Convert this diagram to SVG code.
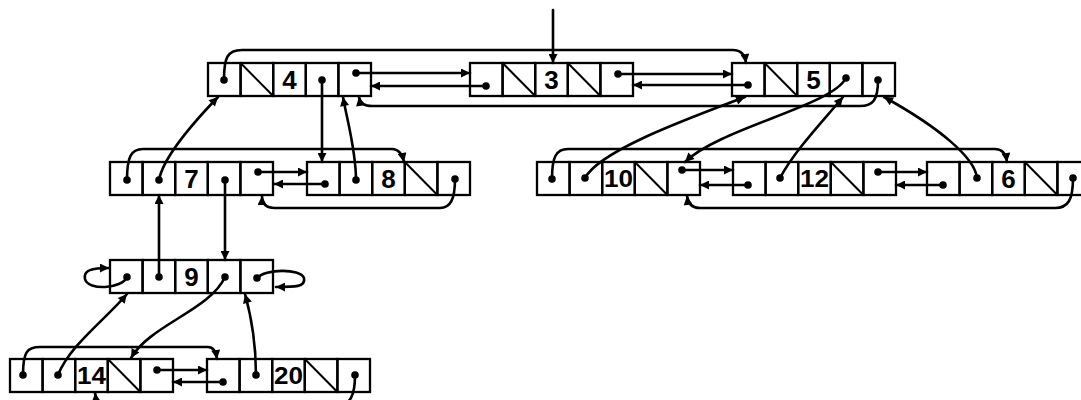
<svg xmlns="http://www.w3.org/2000/svg" width="1081" height="400" viewBox="0 0 1081 400">
<defs>
<style>
.cell{fill:none;stroke:#000;stroke-width:2.3}
.sl{stroke:#000;stroke-width:2}
.dot{fill:#000}
.key{font-family:"Liberation Sans",Arial,sans-serif;font-weight:bold;font-size:26px;text-anchor:middle;fill:#000}
.k2{font-size:24px}
.c{fill:none;stroke:#000;stroke-width:2.6;stroke-linecap:round;marker-end:url(#ah)}
</style>
<marker id="ah" viewBox="0 0 10 10" refX="10" refY="5" markerWidth="11" markerHeight="9" markerUnits="userSpaceOnUse" orient="auto">
<path d="M0,0 L10,5 L0,10 z" fill="#000"/>
</marker>
</defs>
<rect width="1081" height="400" fill="#fff"/>

<g id="node4">
<rect class="cell" x="208" y="63" width="32.6" height="33"/>
<rect class="cell" x="240.6" y="63" width="32.6" height="33"/>
<rect class="cell" x="273.2" y="63" width="32.6" height="33"/>
<rect class="cell" x="305.8" y="63" width="32.6" height="33"/>
<rect class="cell" x="338.4" y="63" width="32.6" height="33"/>
<line class="sl" x1="240.6" y1="63" x2="273.2" y2="96"/>
<text class="key" x="289.5" y="89">4</text>
<circle class="dot" cx="224" cy="80" r="3.8"/>
<circle class="dot" cx="322" cy="80" r="3.8"/>
<circle class="dot" cx="356" cy="73" r="3.8"/>
</g>

<g id="node3">
<rect class="cell" x="470" y="63" width="32.6" height="33"/>
<rect class="cell" x="502.6" y="63" width="32.6" height="33"/>
<rect class="cell" x="535.2" y="63" width="32.6" height="33"/>
<rect class="cell" x="567.8" y="63" width="32.6" height="33"/>
<rect class="cell" x="600.4" y="63" width="32.6" height="33"/>
<line class="sl" x1="502.6" y1="63" x2="535.2" y2="96"/>
<line class="sl" x1="567.8" y1="63" x2="600.4" y2="96"/>
<text class="key" x="551.5" y="89">3</text>
<circle class="dot" cx="486" cy="86" r="3.8"/>
<circle class="dot" cx="618" cy="74" r="3.8"/>
</g>

<g id="node5">
<rect class="cell" x="732" y="63" width="32.6" height="33"/>
<rect class="cell" x="764.6" y="63" width="32.6" height="33"/>
<rect class="cell" x="797.2" y="63" width="32.6" height="33"/>
<rect class="cell" x="829.8" y="63" width="32.6" height="33"/>
<rect class="cell" x="862.4" y="63" width="32.6" height="33"/>
<line class="sl" x1="764.6" y1="63" x2="797.2" y2="96"/>
<text class="key" x="813.5" y="89">5</text>
<circle class="dot" cx="748" cy="85" r="3.8"/>
<circle class="dot" cx="846" cy="78" r="3.8"/>
<circle class="dot" cx="878" cy="80" r="3.8"/>
</g>

<g id="node7">
<rect class="cell" x="110" y="162" width="32.6" height="33"/>
<rect class="cell" x="142.6" y="162" width="32.6" height="33"/>
<rect class="cell" x="175.2" y="162" width="32.6" height="33"/>
<rect class="cell" x="207.8" y="162" width="32.6" height="33"/>
<rect class="cell" x="240.4" y="162" width="32.6" height="33"/>
<text class="key" x="191.5" y="188">7</text>
<circle class="dot" cx="127" cy="180" r="3.8"/>
<circle class="dot" cx="159" cy="180" r="3.8"/>
<circle class="dot" cx="225" cy="180" r="3.8"/>
<circle class="dot" cx="258" cy="172" r="3.8"/>
</g>

<g id="node8">
<rect class="cell" x="307" y="162" width="32.6" height="33"/>
<rect class="cell" x="339.6" y="162" width="32.6" height="33"/>
<rect class="cell" x="372.2" y="162" width="32.6" height="33"/>
<rect class="cell" x="404.8" y="162" width="32.6" height="33"/>
<rect class="cell" x="437.4" y="162" width="32.6" height="33"/>
<line class="sl" x1="404.8" y1="162" x2="437.4" y2="195"/>
<text class="key" x="388.5" y="188">8</text>
<circle class="dot" cx="325" cy="184" r="3.8"/>
<circle class="dot" cx="356" cy="180" r="3.8"/>
<circle class="dot" cx="455" cy="179" r="3.8"/>
</g>

<g id="node10">
<rect class="cell" x="537" y="162" width="32.6" height="33"/>
<rect class="cell" x="569.6" y="162" width="32.6" height="33"/>
<rect class="cell" x="602.2" y="162" width="32.6" height="33"/>
<rect class="cell" x="634.8" y="162" width="32.6" height="33"/>
<rect class="cell" x="667.4" y="162" width="32.6" height="33"/>
<line class="sl" x1="634.8" y1="162" x2="667.4" y2="195"/>
<text class="key k2" x="618.5" y="187" textLength="29" lengthAdjust="spacingAndGlyphs">10</text>
<circle class="dot" cx="552" cy="179" r="3.8"/>
<circle class="dot" cx="585" cy="178" r="3.8"/>
<circle class="dot" cx="682" cy="170" r="3.8"/>
</g>

<g id="node12">
<rect class="cell" x="733" y="162" width="32.6" height="33"/>
<rect class="cell" x="765.6" y="162" width="32.6" height="33"/>
<rect class="cell" x="798.2" y="162" width="32.6" height="33"/>
<rect class="cell" x="830.8" y="162" width="32.6" height="33"/>
<rect class="cell" x="863.4" y="162" width="32.6" height="33"/>
<line class="sl" x1="830.8" y1="162" x2="863.4" y2="195"/>
<text class="key k2" x="814.5" y="187" textLength="29" lengthAdjust="spacingAndGlyphs">12</text>
<circle class="dot" cx="748" cy="185" r="3.8"/>
<circle class="dot" cx="780" cy="178" r="3.8"/>
<circle class="dot" cx="878" cy="172" r="3.8"/>
</g>

<g id="node6">
<rect class="cell" x="927" y="162" width="32.6" height="33"/>
<rect class="cell" x="959.6" y="162" width="32.6" height="33"/>
<rect class="cell" x="992.2" y="162" width="32.6" height="33"/>
<rect class="cell" x="1024.8" y="162" width="32.6" height="33"/>
<rect class="cell" x="1057.4" y="162" width="32.6" height="33"/>
<line class="sl" x1="1024.8" y1="162" x2="1057.4" y2="195"/>
<text class="key" x="1008.5" y="188">6</text>
<circle class="dot" cx="943" cy="185" r="3.8"/>
<circle class="dot" cx="977" cy="178" r="3.8"/>
<circle class="dot" cx="1073" cy="178" r="3.8"/>
</g>

<g id="node9">
<rect class="cell" x="110" y="260" width="32.6" height="33"/>
<rect class="cell" x="142.6" y="260" width="32.6" height="33"/>
<rect class="cell" x="175.2" y="260" width="32.6" height="33"/>
<rect class="cell" x="207.8" y="260" width="32.6" height="33"/>
<rect class="cell" x="240.4" y="260" width="32.6" height="33"/>
<text class="key" x="191.5" y="286">9</text>
<circle class="dot" cx="127" cy="277" r="3.8"/>
<circle class="dot" cx="159" cy="277" r="3.8"/>
<circle class="dot" cx="225" cy="277" r="3.8"/>
<circle class="dot" cx="257" cy="278" r="3.8"/>
</g>

<g id="node14">
<rect class="cell" x="10" y="359" width="32.6" height="33"/>
<rect class="cell" x="42.6" y="359" width="32.6" height="33"/>
<rect class="cell" x="75.2" y="359" width="32.6" height="33"/>
<rect class="cell" x="107.8" y="359" width="32.6" height="33"/>
<rect class="cell" x="140.4" y="359" width="32.6" height="33"/>
<line class="sl" x1="107.8" y1="359" x2="140.4" y2="392"/>
<text class="key k2" x="91.5" y="384" textLength="29" lengthAdjust="spacingAndGlyphs">14</text>
<circle class="dot" cx="23" cy="375" r="3.8"/>
<circle class="dot" cx="58" cy="375" r="3.8"/>
<circle class="dot" cx="157" cy="370" r="3.8"/>
</g>

<g id="node20">
<rect class="cell" x="207" y="359" width="32.6" height="33"/>
<rect class="cell" x="239.6" y="359" width="32.6" height="33"/>
<rect class="cell" x="272.2" y="359" width="32.6" height="33"/>
<rect class="cell" x="304.8" y="359" width="32.6" height="33"/>
<rect class="cell" x="337.4" y="359" width="32.6" height="33"/>
<line class="sl" x1="304.8" y1="359" x2="337.4" y2="392"/>
<text class="key k2" x="288.5" y="384" textLength="29" lengthAdjust="spacingAndGlyphs">20</text>
<circle class="dot" cx="223" cy="382" r="3.8"/>
<circle class="dot" cx="256" cy="375" r="3.8"/>
<circle class="dot" cx="355" cy="375" r="3.8"/>
</g>

<g id="connectors">
<path class="c" d="M553,10 L553,63"/>
<path class="c" d="M224,80 C224,58 227,50 242,50 L733,50 C741,50 745,55 746,63"/>
<path class="c" d="M356,73 L470,73"/>
<path class="c" d="M486,86 L371,86"/>
<path class="c" d="M618,74 L732,74"/>
<path class="c" d="M748,85 L633,85"/>
<path class="c" d="M878,80 C878,100 873,106 860,106 L372,106 C364,106 360,103 359,97"/>
<path class="c" d="M322,80 L322,162"/>
<path class="c" d="M356,180 C356,150 347,120 343,97"/>
<path class="c" d="M159,180 C163,158 192,124 218,97"/>
<path class="c" d="M127,180 C127,157 131,149 143,149 L392,149 C398,149 402,153 404,162"/>
<path class="c" d="M258,172 L307,172"/>
<path class="c" d="M325,184 L274,184"/>
<path class="c" d="M455,179 C455,200 450,208 440,208 L275,208 C266,208 262,204 262,196"/>
<path class="c" d="M225,180 L225,260"/>
<path class="c" d="M159,277 L159,195"/>
<path class="c" d="M846,78 C832,106 720,128 685,162"/>
<path class="c" d="M585,178 C600,150 690,118 745,97"/>
<path class="c" d="M780,178 C795,150 824,120 843,97"/>
<path class="c" d="M977,178 C975,158 940,128 884,97"/>
<path class="c" d="M552,179 C552,157 556,149 568,149 L995,149 C1002,149 1006,154 1007,162"/>
<path class="c" d="M682,170 L733,170"/>
<path class="c" d="M748,185 L700,185"/>
<path class="c" d="M878,172 L927,172"/>
<path class="c" d="M943,185 L896,185"/>
<path class="c" d="M1073,178 C1073,200 1068,208 1055,208 L700,208 C692,208 688,204 687,196"/>
<path class="c" d="M127,277 C122,289 88,291 85,279 C83,270 92,268 109,268"/>
<path class="c" d="M257,278 C265,269 300,268 304,278 C306,287 295,287 276,287"/>
<path class="c" d="M225,277 C210,310 150,325 131,358"/>
<path class="c" d="M58,375 C70,345 105,320 127,294"/>
<path class="c" d="M256,375 C256,340 250,312 245,294"/>
<path class="c" d="M23,375 C23,352 27,347 40,347 L208,347 C213,347 216,352 217,359"/>
<path class="c" d="M157,370 L207,370"/>
<path class="c" d="M223,382 L173,382"/>
<path class="c" d="M355,375 C355,396 350,405 338,405 L108,405 C100,405 96,400 95,393"/>
</g>
</svg>
